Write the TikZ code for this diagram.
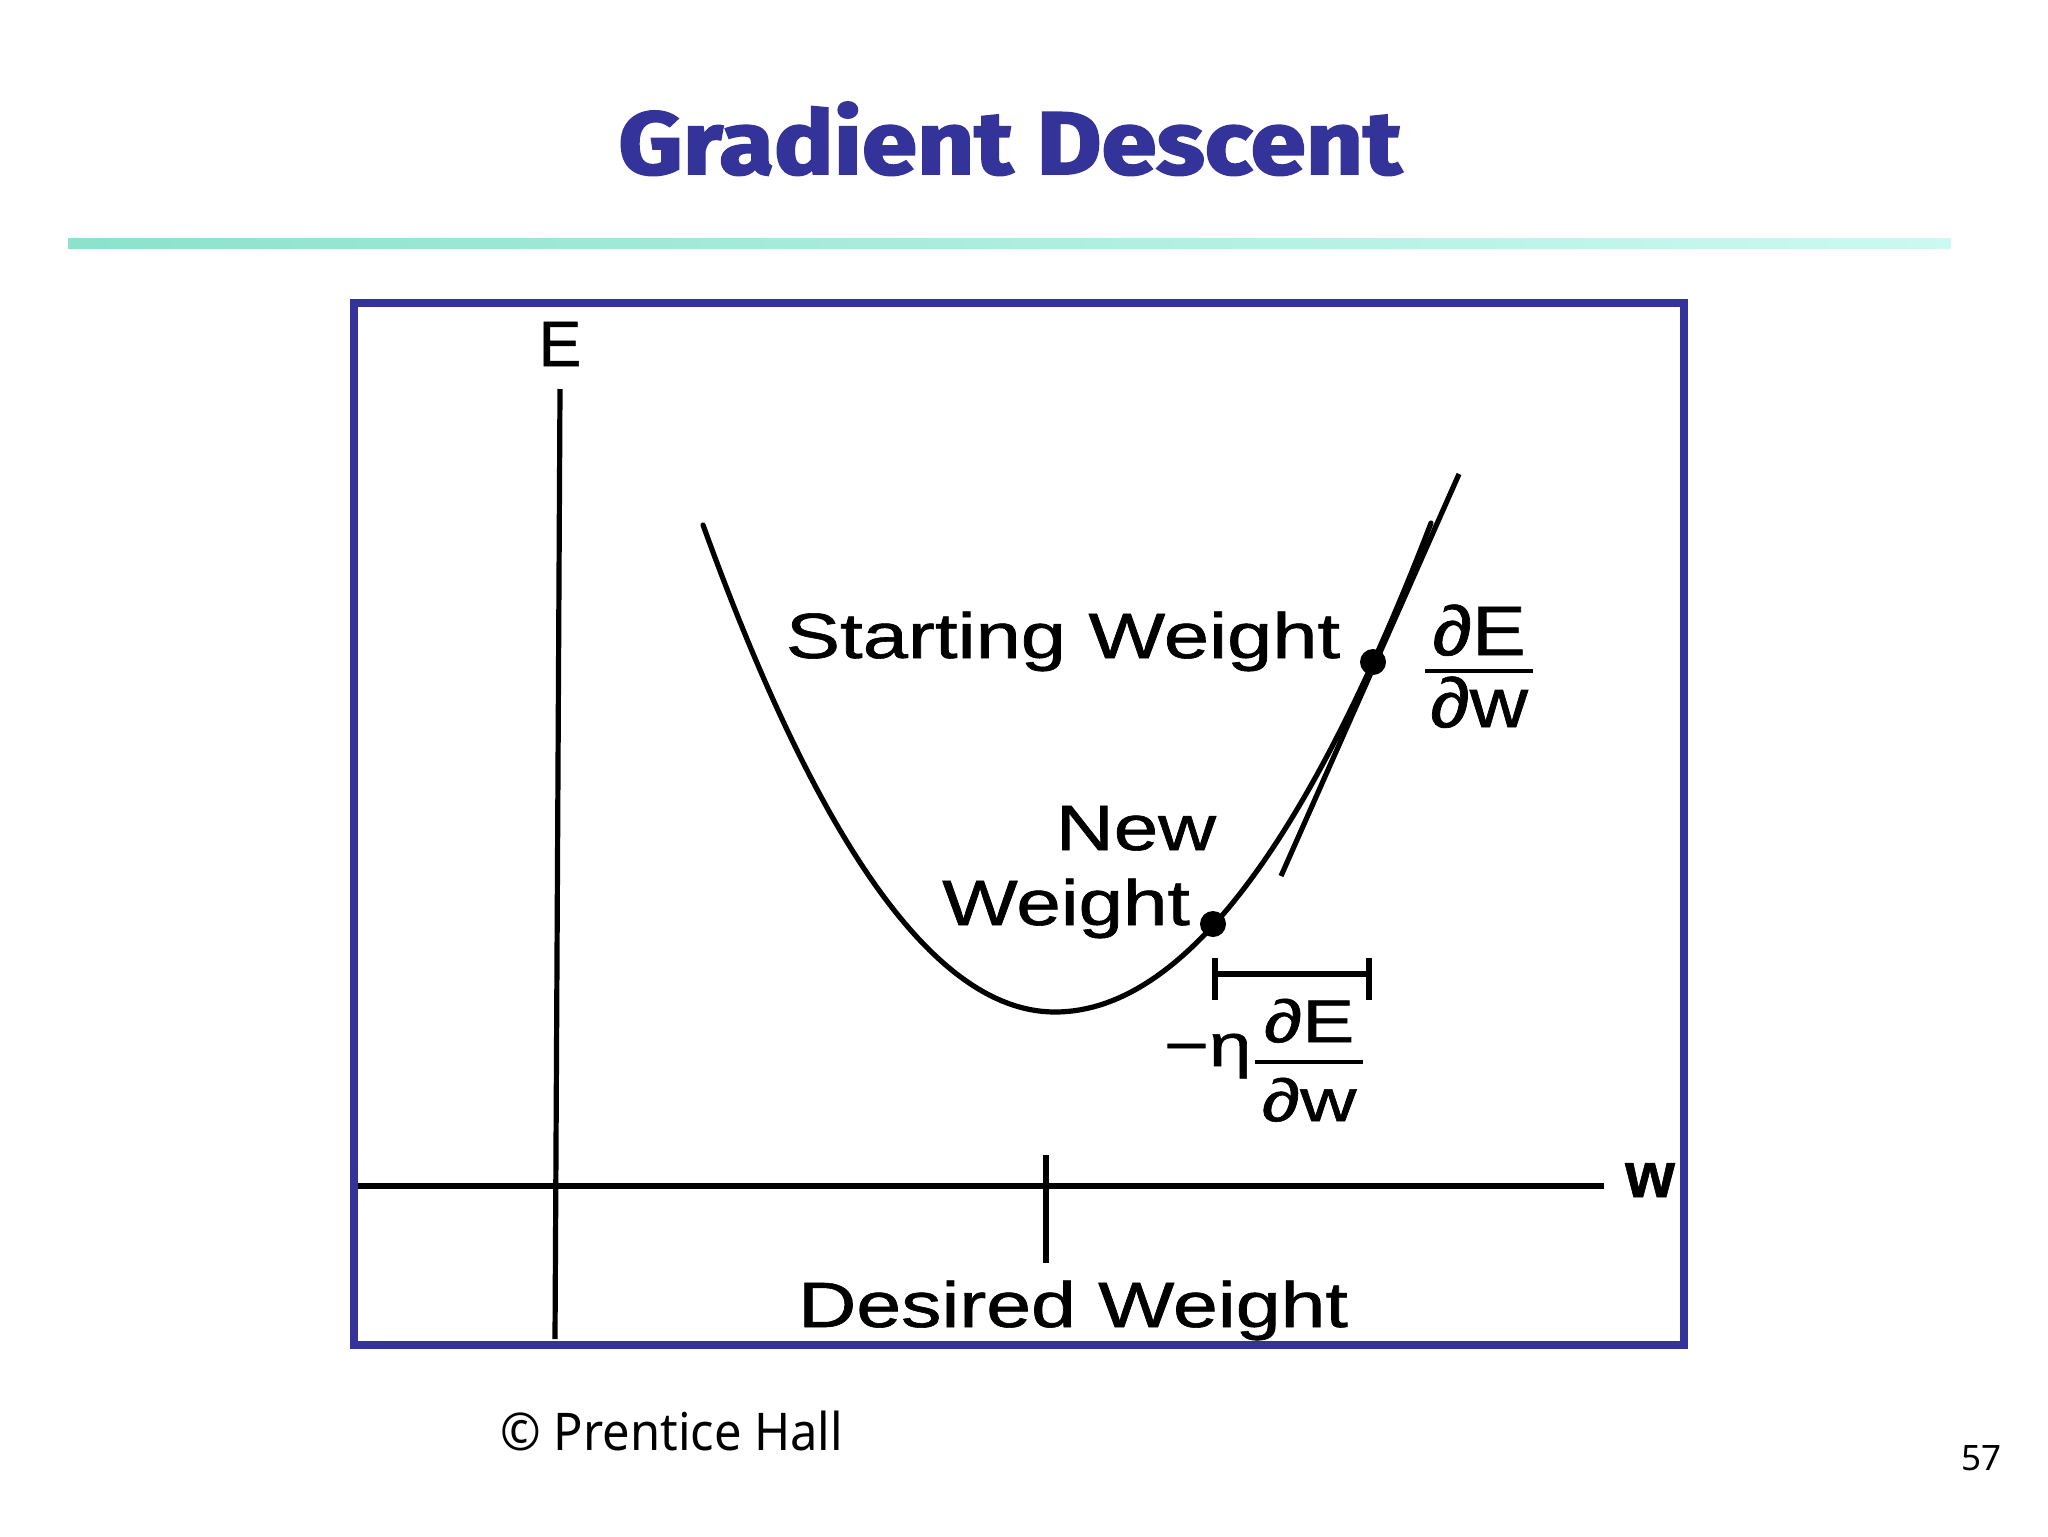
\documentclass[tikz,border=0pt]{standalone}
\usepackage{graphicx}
\usepackage{fontspec}
\setmainfont{Liberation Sans}[FakeBold=0.9]
\newfontfamily\titlefont{Fira Sans}[FakeBold=2.2]
\newfontfamily\notefont{Noto Sans}
\definecolor{boxblue}{RGB}{51,51,153}
\definecolor{tealL}{RGB}{140,226,204}
\definecolor{tealR}{RGB}{204,249,242}
\newcommand\stretchx[2]{\scalebox{#1}[1]{#2}}
\newcommand\labsize{\fontsize{32}{38}\selectfont}
\begin{document}
\begin{tikzpicture}[x=0.5pt,y=-0.5pt,
  lbl/.style={inner sep=0pt, anchor=base, font=\labsize},
  axisline/.style={line width=2.6pt, line cap=butt},
  curveline/.style={line width=2.6pt, line cap=round},
  dotmark/.style={circle, fill=black, inner sep=0pt, minimum size=13pt},
  fracbar/.style={line width=2.2pt}]
\path[fill=white] (0,0) rectangle (2048,1536);
\useasboundingbox (0,0) rectangle (2048,1536);

% title and rule
\node[inner sep=0pt, anchor=base, text=boxblue] (title) at (1010,174)
  {\resizebox{391.5pt}{36pt}{\titlefont\bfseries Gradient Descent}};
\shade[left color=tealL, right color=tealR] (68,238) rectangle (1951,248);

% frame
\draw[boxblue, line width=4pt] (354,303) rectangle (1684,1345);

% axes
\coordinate (Etop) at (560,389);
\coordinate (Ebot) at (555,1339);
\coordinate (wl) at (358,1186);
\coordinate (wr) at (1604,1186);
\draw[axisline] (Ebot) -- (Etop);
\draw[axisline] (wl) -- (wr);
\node[lbl] (Elbl) at (560,366) {E};
\node[lbl] (wlbl) at (1650,1197) {\bfseries w};

% desired weight tick
\coordinate (dt1) at (1046,1155);
\coordinate (dt2) at (1046,1263);
\draw[axisline] (dt1) -- (dt2);
\node[lbl] (desired) at (1073,1327) {\stretchx{1.26}{Desired Weight}};

% error curve
\draw[curveline] plot[domain=703:1055, samples=60] (\x,{1012-(0.0627*(\x-1055))^2})
  -- plot[domain=1055:1431, samples=60] (\x,{1012-(0.0588*(\x-1055))^2});

% tangent
\coordinate (t1) at (1281,876);
\coordinate (t2) at (1459,474);
\draw[curveline, line cap=butt] (t1) -- (t2);

% points
\node[dotmark] (start) at (1373,662) {};
\node[dotmark] (new) at (1213,924) {};
\node[lbl] (startlbl) at (1063,658) {\stretchx{1.27}{Starting Weight}};
\node[lbl] (newlbl1) at (1136,850) {\stretchx{1.25}{New}};
\node[lbl] (newlbl2) at (1066,925) {\stretchx{1.25}{Weight}};

% gradient fraction (top right)
\node[inner sep=0pt, anchor=base, font=\fontsize{35}{40}\selectfont] (gnum) at (1479,655) {\stretchx{1.15}{∂E}};
\coordinate (gb1) at (1425,671);
\coordinate (gb2) at (1533,671);
\draw[fracbar] (gb1) -- (gb2);
\node[inner sep=0pt, anchor=base, font=\fontsize{35}{40}\selectfont] (gden) at (1479,727) {\stretchx{1.15}{∂w}};

% step bracket
\coordinate (bl) at (1215,974);
\coordinate (br) at (1369,974);
\coordinate (blt) at (1215,958);
\coordinate (blb) at (1215,1000);
\coordinate (brt) at (1369,958);
\coordinate (brb) at (1369,1000);
\draw[axisline] (bl) -- (br);
\draw[axisline] (blt) -- (blb);
\draw[axisline] (brt) -- (brb);

% step fraction
\node[inner sep=0pt, anchor=base east, font=\fontsize{30}{36}\selectfont] (eta) at (1252,1066) {\stretchx{1.28}{−η}};
\node[inner sep=0pt, anchor=base, font=\fontsize{30}{36}\selectfont] (snum) at (1309,1042) {\stretchx{1.3}{∂E}};
\coordinate (sb1) at (1255,1062);
\coordinate (sb2) at (1363,1062);
\draw[fracbar] (sb1) -- (sb2);
\node[inner sep=0pt, anchor=base, font=\fontsize{30}{36}\selectfont] (sden) at (1309,1121) {\stretchx{1.3}{∂w}};

% footer
\node[inner sep=0pt, anchor=base west, font=\notefont\fontsize{26}{30}\selectfont] (copy) at (500,1450) {\stretchx{0.94}{© Prentice Hall}};
\node[inner sep=0pt, anchor=base, font=\notefont\fontsize{17.5}{20}\selectfont] (page) at (1981,1470) {57};
\end{tikzpicture}
\end{document}
